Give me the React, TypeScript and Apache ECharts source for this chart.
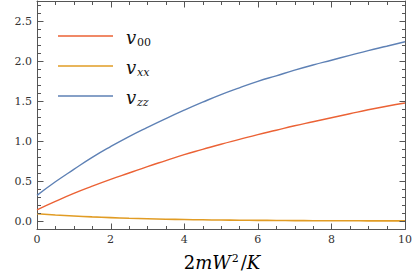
import React, { useEffect, useRef } from "react";
import * as echarts from "echarts";

const xValues = [0, 0.5, 1, 1.5, 2, 2.5, 3, 3.5, 4, 4.5, 5, 5.5, 6, 6.5, 7, 7.5, 8, 8.5, 9, 9.5, 10];
const v00 = [0.14, 0.245, 0.345, 0.435, 0.52, 0.6, 0.68, 0.755, 0.83, 0.895, 0.96, 1.02, 1.08, 1.135, 1.19, 1.24, 1.29, 1.34, 1.39, 1.435, 1.475];
const vxx = [0.09, 0.075, 0.062, 0.051, 0.042, 0.034, 0.028, 0.022, 0.018, 0.015, 0.012, 0.01, 0.008, 0.0065, 0.005, 0.004, 0.003, 0.0025, 0.002, 0.0017, 0.0015];
const vzz = [0.32, 0.49, 0.645, 0.795, 0.93, 1.055, 1.17, 1.28, 1.385, 1.485, 1.58, 1.665, 1.745, 1.815, 1.885, 1.95, 2.01, 2.07, 2.13, 2.185, 2.24];

const xMajorTicks = [0, 2, 4, 6, 8, 10];
const xMinorTicks = [0.5, 1, 1.5, 2.5, 3, 3.5, 4.5, 5, 5.5, 6.5, 7, 7.5, 8.5, 9, 9.5];
const yMajorTicks = [0, 0.5, 1, 1.5, 2, 2.5];
const yMinorTicks = [-0.1, 0.1, 0.2, 0.3, 0.4, 0.6, 0.7, 0.8, 0.9, 1.1, 1.2, 1.3, 1.4, 1.6, 1.7, 1.8, 1.9, 2.1, 2.2, 2.3, 2.4, 2.6, 2.7];

const X_MIN = 0;
const X_MAX = 10;
const Y_MIN = -0.1;
const Y_MAX = 2.75;

const RED = "#EB6235";
const ORANGE = "#E19C24";
const BLUE = "#5E81B5";
const FRAME = "#555555";
const FONT = "DejaVu Serif";

export default function App() {
  const ref = useRef<HTMLDivElement>(null);
  useEffect(() => {
    if (!ref.current) return;
    const chart = echarts.init(ref.current, null, { renderer: "svg" });
    const axisCommon = (pos: string, ticks: number[] | null, isX: boolean) => ({
      type: "value",
      position: pos,
      min: isX ? X_MIN : Y_MIN,
      max: isX ? X_MAX : Y_MAX,
      splitLine: { show: false },
      axisLine: { show: true, onZero: false, lineStyle: { color: FRAME, width: 1 } },
      axisTick: { show: false },
      axisLabel: ticks
        ? {
            show: true,
            customValues: ticks,
            margin: 5,
            color: "#333",
            fontFamily: FONT,
            fontSize: 11,
            formatter: (v: number) => (isX ? String(Math.round(v)) : v.toFixed(1)),
          }
        : { show: false },
    });
    const data = (ys: number[]) => xValues.map((x, i) => [x, ys[i]]);
    const legendRows = [
      { y: 36, color: RED, sub: "00" },
      { y: 66, color: ORANGE, sub: "xx" },
      { y: 96, color: BLUE, sub: "zz" },
    ];
    const graphics: any[] = [];
    legendRows.forEach((r) => {
      graphics.push({
        type: "line",
        shape: { x1: 58, y1: r.y, x2: 113, y2: r.y },
        style: { stroke: r.color, lineWidth: 1.6 },
      });
      graphics.push({
        type: "text",
        x: 126,
        y: r.y + 1,
        style: { text: "v", fontFamily: FONT, fontStyle: "italic", fontSize: 18, fill: "#111", verticalAlign: "middle", align: "left" },
      });
      graphics.push({
        type: "text",
        x: 137,
        y: r.y + 6,
        style: {
          text: r.sub,
          fontFamily: FONT,
          fontStyle: r.sub === "00" ? "normal" : "italic",
          fontSize: 11,
          fill: "#111",
          verticalAlign: "middle",
          align: "left",
        },
      });
    });
    graphics.push({
      type: "text",
      x: 222,
      y: 262,
      style: {
        text: "{n|2}{i|mW}{sup|2}{n|/}{i|K}",
        align: "center",
        verticalAlign: "middle",
        rich: {
          n: { fontFamily: FONT, fontSize: 18, color: "#111", verticalAlign: "bottom" },
          i: { fontFamily: FONT, fontSize: 18, fontStyle: "italic", color: "#111", verticalAlign: "bottom" },
          sup: { fontFamily: FONT, fontSize: 11, color: "#111", verticalAlign: "top", padding: [0, 2, 0, 1] },
        },
      },
    });
    chart.setOption({
      animation: false,
      grid: { left: 37, right: 8, top: 1, bottom: 50, containLabel: false },
      xAxis: [axisCommon("bottom", xMajorTicks, true), axisCommon("top", null, true)],
      yAxis: [axisCommon("left", yMajorTicks, false), axisCommon("right", null, false)],
      series: [
        { name: "v00", type: "line", data: data(v00), smooth: true, showSymbol: false, lineStyle: { color: RED, width: 1.4 } },
        { name: "vxx", type: "line", data: data(vxx), smooth: true, showSymbol: false, lineStyle: { color: ORANGE, width: 1.6 } },
        { name: "vzz", type: "line", data: data(vzz), smooth: true, showSymbol: false, lineStyle: { color: BLUE, width: 1.4 } },
      ],
      graphic: graphics,
    });

    // Frame ticks (inside, on all four sides), positioned through the chart's own scales
    const tickEls: any[] = [];
    const toPx = (x: number, y: number) => chart.convertToPixel({ xAxisIndex: 0, yAxisIndex: 0 } as any, [x, y]) as any;
    const addTick = (p: number[], dx: number, dy: number) => {
      const x = Math.round(p[0]) + 0.5;
      const y = Math.round(p[1]) + 0.5;
      tickEls.push({
        type: "line",
        silent: true,
        z: 10,
        shape: { x1: x, y1: y, x2: x + dx, y2: y + dy },
        style: { stroke: FRAME, lineWidth: 1 },
      });
    };
    const pushX = (ticks: number[], len: number) =>
      ticks.forEach((t) => {
        const pb = toPx(t, Y_MIN);
        const pt = toPx(t, Y_MAX);
        if (pb) addTick([pb[0], pb[1] - 0.5], 0, -len);
        if (pt) addTick([pt[0], pt[1]], 0, len);
      });
    const pushY = (ticks: number[], len: number) =>
      ticks.forEach((t) => {
        const pl = toPx(X_MIN, t);
        const pr = toPx(X_MAX, t);
        if (pl) addTick([pl[0], pl[1]], len, 0);
        if (pr) addTick([pr[0] - 0.5, pr[1]], -len, 0);
      });
    pushX(xMajorTicks, 6);
    pushX(xMinorTicks, 3.5);
    pushY(yMajorTicks, 6);
    pushY(yMinorTicks, 3.5);
    chart.setOption({ graphic: [...graphics, ...tickEls] });
    return () => chart.dispose();
  }, []);
  return <div ref={ref} style={{ width: 415, height: 279, position: "absolute", left: 0, top: 0, background: "#fff" }} />;
}
